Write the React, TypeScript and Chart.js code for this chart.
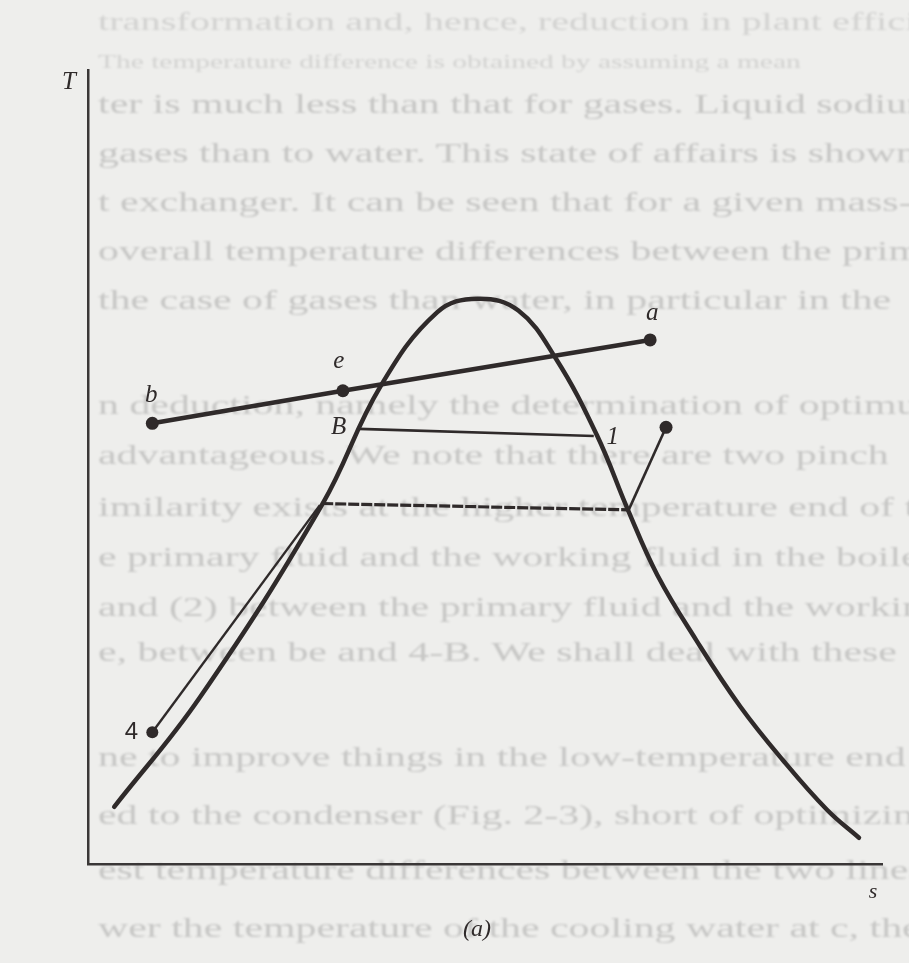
import React, { useEffect, useRef } from "react";
import { Chart, registerables } from "chart.js";

Chart.register(...registerables);

// Saturation dome on the T–s plane: liquid branch, rounded top, vapour branch
const domeS = [3.3, 14.1, 29.5, 36.8, 44.0, 49.1, 54.2, 58.9, 64.1, 68.0, 71.7, 76.6, 82.1, 87.5, 93.1, 97.1];
const domeT = [7.2, 21.0, 45.3, 60.1, 69.5, 71.2, 69.7, 63.7, 54.0, 44.6, 36.4, 28.2, 19.9, 13.1, 6.8, 3.3];

// Primary fluid cooling line b – e – a
const primaryS = [8.1, 32.1, 70.8];
const primaryT = [55.5, 59.6, 66.0];
const primaryNames = ["b", "e", "a"];

// Boiling at the upper pressure, B to 1
const boilS = [34.1, 63.7];
const boilT = [54.8, 53.9];

// Boiling at the lower pressure (dashed)
const lowBoilS = [29.5, 68.1];
const lowBoilT = [45.4, 44.6];

// Superheating leg from the vapour line
const superS = [68.1, 72.8];
const superT = [44.6, 55.0];

// Feed-water line starting at state 4
const feedS = [8.1, 29.2];
const feedT = [16.6, 45.2];

// Axis names and caption
const axisNames = { x: "s", y: "T" };
const caption = "(a)";

// Facing-page text that shows through the paper
const pageText: [number, number, string][] = [
  [22, 26, "transformation and, hence, reduction in plant efficiency"],
  [62, 19, "The temperature difference is obtained by assuming a mean"],
  [104, 27, "ter is much less than that for gases. Liquid sodium"],
  [153, 27, "gases than to water. This state of affairs is shown"],
  [202, 27, "t exchanger. It can be seen that for a given mass-"],
  [251, 27, "overall temperature differences between the primary"],
  [300, 27, "the case of gases than water, in particular in the"],
  [405, 27, "n deduction, namely the determination of optimum"],
  [455, 27, "advantageous. We note that there are two pinch"],
  [507, 27, "imilarity exists at the higher temperature end of the"],
  [557, 27, "e primary fluid and the working fluid in the boiler"],
  [607, 27, "and (2) between the primary fluid and the working"],
  [652, 27, "e, between be and 4-B. We shall deal with these"],
  [757, 27, "ne to improve things in the low-temperature end of"],
  [815, 27, "ed to the condenser (Fig. 2-3), short of optimizing"],
  [870, 27, "est temperature differences between the two lines,"],
  [928, 27, "wer the temperature of the cooling water at c, the"],
];

const INK = "#2f2a2a";
const AXIS = "#3a3737";
const PAPER = "#eeeeec";

const pts = (xs: number[], ys: number[]) => xs.map((x, i) => ({ x, y: ys[i] }));

const labelPlugin = {
  id: "stateLabels",
  afterDatasetsDraw(chart: any) {
    const { ctx, chartArea } = chart;
    const sx = chart.scales.x;
    const ty = chart.scales.y;
    const px = (s: number) => sx.getPixelForValue(s);
    const py = (t: number) => ty.getPixelForValue(t);
    ctx.save();
    ctx.fillStyle = INK;
    ctx.textAlign = "center";
    ctx.textBaseline = "middle";

    ctx.font = "italic 25px 'Liberation Serif', serif";
    // b, e, a sit above their markers
    const up = [
      [-1, -28],
      [-4, -29],
      [2, -27],
    ];
    primaryNames.forEach((name, i) => {
      ctx.fillText(name, px(primaryS[i]) + up[i][0], py(primaryT[i]) + up[i][1]);
    });
    // B at the start of the boiling line, 1 at its end
    ctx.fillText("B", px(boilS[0]) - 20, py(boilT[0]) - 1);
    ctx.fillText("1", px(boilS[1]) + 19, py(boilT[1]) + 1);
    // state 4
    ctx.font = "24px 'Liberation Sans', sans-serif";
    ctx.fillText("4", px(feedS[0]) - 21, py(feedT[0]));

    // axis names and caption
    ctx.font = "italic 25px 'Liberation Serif', serif";
    ctx.fillText(axisNames.y, chartArea.left - 19, chartArea.top + 12);
    ctx.font = "italic 22px 'Liberation Serif', serif";
    ctx.fillText(axisNames.x, chartArea.right - 9, chartArea.bottom + 28);
    ctx.font = "italic 24px 'Liberation Serif', serif";
    ctx.fillText(caption, chartArea.left + (chartArea.right - chartArea.left) * 0.49, chartArea.bottom + 66);
    ctx.restore();
  },
};

export default function App() {
  const ref = useRef<HTMLCanvasElement | null>(null);

  useEffect(() => {
    document.body.style.margin = "0";
    document.body.style.background = PAPER;
    const canvas = ref.current;
    if (!canvas) return;
    const hidden = {
      type: "linear" as const,
      min: 0,
      max: 100,
      display: true,
      grid: { display: false, drawTicks: false },
      ticks: { display: false },
      border: { display: true, color: AXIS, width: 2.5 },
    };
    const chart = new Chart(canvas, {
      type: "scatter",
      data: {
        datasets: [
          {
            label: "dome",
            data: pts(domeS, domeT),
            showLine: true,
            borderColor: INK,
            borderWidth: 4.5,
            pointRadius: 0,
            tension: 0.4,
            borderCapStyle: "round",
            borderJoinStyle: "round",
          },
          {
            label: "primary",
            data: pts(primaryS, primaryT),
            showLine: true,
            borderColor: INK,
            borderWidth: 4.5,
            pointRadius: 6.5,
            pointBackgroundColor: INK,
            pointBorderWidth: 0,
          },
          {
            label: "boil",
            data: pts(boilS, boilT),
            showLine: true,
            borderColor: INK,
            borderWidth: 2.6,
            pointRadius: 0,
          },
          {
            label: "lowBoil",
            data: pts(lowBoilS, lowBoilT),
            showLine: true,
            borderColor: INK,
            borderWidth: 3.2,
            borderDash: [11, 2],
            pointRadius: 0,
          },
          {
            label: "super",
            data: pts(superS, superT),
            showLine: true,
            borderColor: INK,
            borderWidth: 2.6,
            pointRadius: [0, 6.5],
            pointBackgroundColor: INK,
            pointBorderWidth: 0,
          },
          {
            label: "feed",
            data: pts(feedS, feedT),
            showLine: true,
            borderColor: INK,
            borderWidth: 2.4,
            pointRadius: [6, 0],
            pointBackgroundColor: INK,
            pointBorderWidth: 0,
          },
        ],
      },
      options: {
        animation: false,
        responsive: false,
        devicePixelRatio: 1,
        layout: { padding: { left: 88, top: 70, right: 27, bottom: 99 } },
        scales: { x: hidden, y: hidden },
        plugins: { legend: { display: false }, tooltip: { enabled: false } },
        events: [],
      },
      plugins: [labelPlugin],
    });
    return () => chart.destroy();
  }, []);

  return (
    <div
      style={{
        position: "fixed",
        left: 0,
        top: 0,
        width: 909,
        height: 963,
        background: PAPER,
        overflow: "hidden",
      }}
    >
      <div style={{ position: "absolute", left: 0, top: 0, width: 909, height: 963, filter: "blur(0.9px)" }}>
        {pageText.map(([y, size, text], i) => (
          <div
            key={i}
            style={{
              position: "absolute",
              left: 98,
              top: y - size * 0.6,
              whiteSpace: "nowrap",
              fontFamily: "'Liberation Serif', serif",
              fontSize: size,
              lineHeight: `${size * 1.2}px`,
              color: i < 2 ? "rgba(40,40,40,0.14)" : "rgba(40,40,40,0.2)",
              transform: "scaleX(1.55)",
              transformOrigin: "left center",
            }}
          >
            {text}
          </div>
        ))}
      </div>
      <canvas ref={ref} width={909} height={963} style={{ position: "absolute", left: 0, top: 0 }} />
    </div>
  );
}
